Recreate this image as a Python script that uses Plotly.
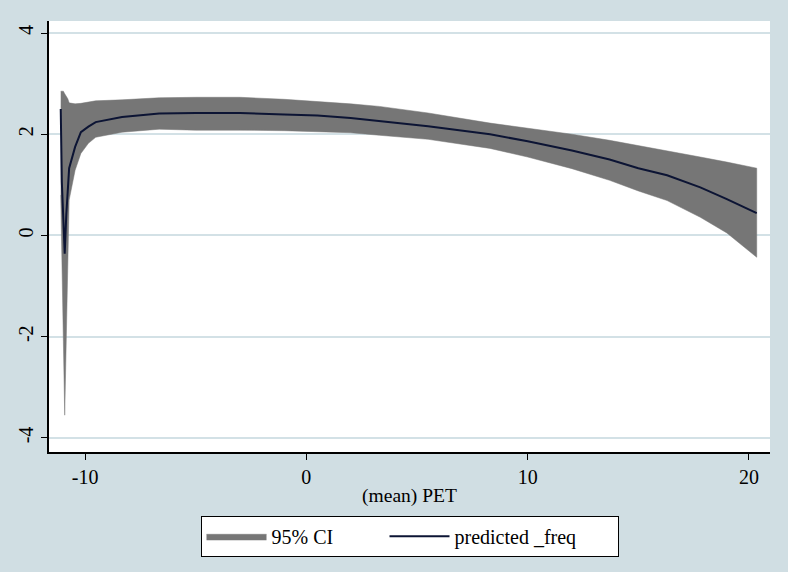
import plotly.graph_objects as go

# (mean) PET values and fitted predictions with 95% CI bounds
pet = [-11.10, -11.05, -10.98, -10.92, -10.85, -10.78, -10.72, -10.45, -10.19,
       -9.85, -9.52, -8.33, -6.65, -5.0, -3.0, -1.0, 0.5, 2.0, 3.3, 5.5, 8.3,
       10.0, 12.0, 13.7, 15.0, 16.3, 17.8, 19.0, 20.35]
pred = [2.50, 1.05, 0.30, -0.36, 0.40, 1.00, 1.33, 1.75, 2.04,
        2.15, 2.24, 2.34, 2.41, 2.42, 2.42, 2.39, 2.37, 2.32, 2.26, 2.16, 2.00,
        1.86, 1.68, 1.50, 1.33, 1.19, 0.95, 0.72, 0.44]
ci_lo = [0.80, -0.70, -2.10, -3.55, -2.20, -0.60, 0.70, 1.29, 1.62,
         1.82, 1.94, 2.04, 2.10, 2.08, 2.08, 2.07, 2.05, 2.03, 1.98, 1.90, 1.72,
         1.55, 1.32, 1.09, 0.88, 0.69, 0.36, 0.05, -0.43]
ci_hi = [2.85, 2.85, 2.85, 2.80, 2.75, 2.70, 2.62, 2.60, 2.61,
         2.63, 2.66, 2.68, 2.72, 2.73, 2.73, 2.69, 2.65, 2.60, 2.55, 2.42, 2.22,
         2.12, 2.00, 1.88, 1.78, 1.68, 1.55, 1.45, 1.33]

x_ticks = [-10, 0, 10, 20]
x_labels = ["-10", "0", "10", "20"]
y_ticks = [-4, -2, 0, 2, 4]
y_labels = ["-4", "-2", "0", "2", "4"]

bg = "#d0dee3"
font = "Liberation Serif, Times New Roman, serif"

fig = go.Figure()
fig.add_trace(go.Scatter(
    x=pet + pet[::-1], y=ci_hi + ci_lo[::-1],
    fill="toself", fillcolor="#767676", mode="lines",
    line=dict(color="#767676", width=0.5),
    name="95% CI", hoverinfo="skip", legendwidth=108))
fig.add_trace(go.Scatter(
    x=pet, y=pred, mode="lines",
    line=dict(color="#0c1434", width=2),
    name="predicted _freq", legendwidth=158))

fig.update_layout(
    width=788, height=572,
    paper_bgcolor=bg, plot_bgcolor="white",
    margin=dict(l=49, r=18, t=21, b=120, autoexpand=False),
    font=dict(family=font, size=20, color="black"),
    legend=dict(orientation="h", x=0.5, xanchor="center", y=-0.148, yanchor="top",
                bgcolor="white", bordercolor="black", borderwidth=1,
                font=dict(size=20), itemwidth=60),
)
fig.update_xaxes(
    range=[-11.63, 20.95], tickvals=x_ticks, ticktext=x_labels,
    showgrid=False, zeroline=False, automargin=False,
    showline=True, linecolor="black", linewidth=1.5,
    ticks="outside", ticklen=6, tickcolor="black", ticklabelstandoff=0,
    title=dict(text="(mean) PET", standoff=2, font=dict(size=19.5)))
fig.update_yaxes(
    range=[-4.277, 4.237], tickvals=y_ticks, ticktext=y_labels, tickangle=-90,
    showgrid=True, gridcolor="#d3e1e6", gridwidth=1.5, zeroline=False,
    automargin=False,
    showline=True, linecolor="black", linewidth=1.5,
    ticks="outside", ticklen=6, tickcolor="black", ticklabelstandoff=0)

# page body has a default 8px margin; drop it so the figure fills the window
fig.write_html("out.html", config={"displayModeBar": False},
               post_script="document.body.style.margin='0';")
